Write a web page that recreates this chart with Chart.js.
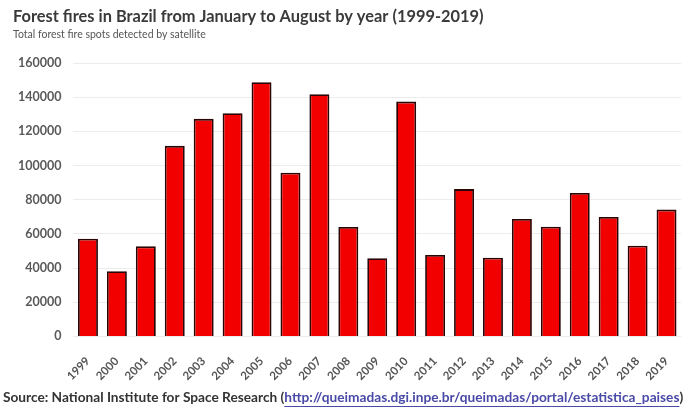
<!DOCTYPE html>
<html>
<head>
<meta charset="utf-8">
<script src="https://cdn.jsdelivr.net/npm/chart.js@4"></script>
<style>
  html, body { margin: 0; padding: 0; background: #fff; }
  #wrap { width: 692px; height: 410px; }
</style>
</head>
<body>
<div id="wrap"><canvas id="myChart" width="692" height="410"></canvas></div>
<script>
const years = ['1999', '2000', '2001', '2002', '2003', '2004', '2005', '2006', '2007', '2008', '2009',
  '2010', '2011', '2012', '2013', '2014', '2015', '2016', '2017', '2018', '2019'];
const fireSpots = [57200, 38100, 52700, 111500, 127300, 130600, 148700, 95800, 141700, 64000, 45700,
  137400, 47700, 86200, 46000, 68700, 64200, 83900, 69900, 53000, 74200];

const FONT = 'Lato, "Open Sans", sans-serif';

const sourceLine = {
  id: 'sourceLine',
  afterDraw(chart) {
    const ctx = chart.ctx;
    ctx.save();
    ctx.font = 'bold 13.7px ' + FONT;
    ctx.textBaseline = 'middle';
    let x = 3;
    const y = 398;
    const a = 'Source: National Institute for Space Research (';
    const b = 'http://queimadas.dgi.inpe.br/queimadas/portal/estatistica_paises';
    ctx.fillStyle = '#333';
    ctx.fillText(a, x, y);
    x += ctx.measureText(a).width;
    ctx.fillStyle = '#4a4aa8';
    ctx.fillText(b, x, y);
    const w = ctx.measureText(b).width;
    ctx.fillRect(x, y + 8, w, 1);
    x += w;
    ctx.fillStyle = '#333';
    ctx.fillText(')', x, y);
    ctx.restore();
  }
};

// draws title and subtitle at a fixed left edge so the chart can use its own padding
const headings = {
  id: 'headings',
  afterDraw(chart) {
    const ctx = chart.ctx;
    ctx.save();
    ctx.textBaseline = 'middle';
    ctx.fillStyle = '#3a3a3a';
    ctx.font = 'bold 16.4px ' + FONT;
    ctx.fillText('Forest fires in Brazil from January to August by year (1999-2019)', 13, 17);
    ctx.fillStyle = '#555';
    ctx.font = '10.5px ' + FONT;
    ctx.fillText('Total forest fire spots detected by satellite', 13, 35);
    ctx.restore();
  }
};

const data = {
  labels: years,
  datasets: [
    {
      label: 'Forest fire spots',
      data: fireSpots,
      backgroundColor: '#f20000',
      borderColor: '#2a0505',
      borderWidth: 1.8,
      categoryPercentage: 1,
      barPercentage: 0.69,
    },
  ],
};

const config = {
  type: 'bar',
  data: data,
  plugins: [sourceLine, headings],
  options: {
    responsive: false,
    animation: false,
    layout: { padding: { left: 6, right: 11, top: 63, bottom: 17 } },
    plugins: {
      legend: { display: false },
      tooltip: { enabled: false },
    },
    scales: {
      x: {
        grid: { display: false },
        border: { display: false },
        ticks: {
          minRotation: 45,
          maxRotation: 45,
          padding: 10,
          color: '#555',
          font: { family: FONT, size: 11.5, weight: 'bold' },
        },
      },
      y: {
        min: 0,
        max: 160000,
        grid: { color: '#ececec', drawTicks: false },
        border: { display: false },
        ticks: {
          stepSize: 20000,
          padding: 12,
          color: '#595959',
          font: { family: FONT, size: 12.5, weight: 'bold' },
          callback: (v) => String(v),
        },
      },
    },
  },
};

new Chart(document.getElementById('myChart'), config);
</script>
</body>
</html>
